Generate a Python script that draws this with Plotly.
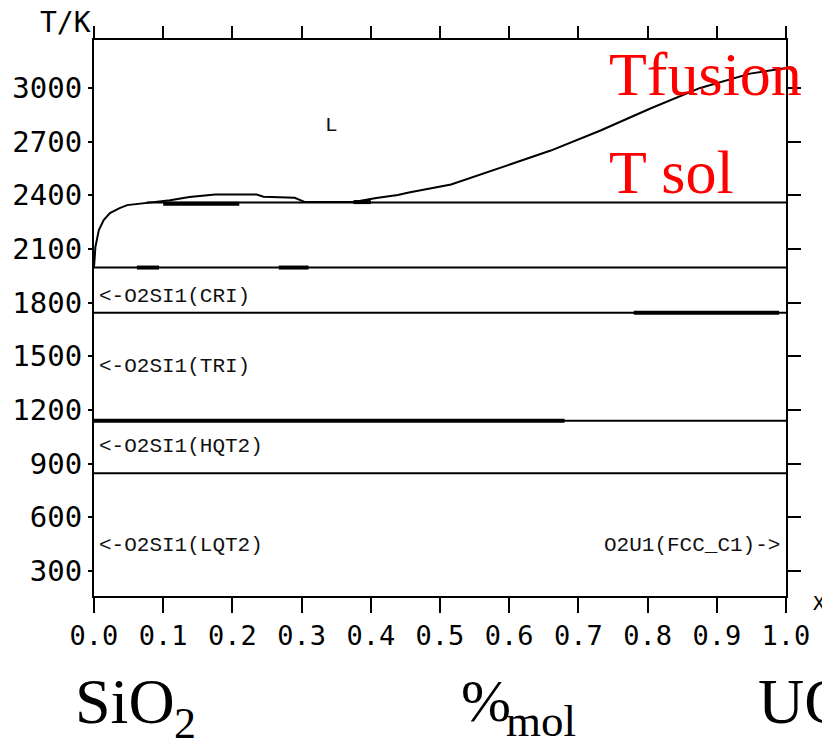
import plotly.graph_objects as go

# ---------------- data ----------------
liq_x = [0.000, 0.002, 0.007, 0.014, 0.023, 0.037, 0.048, 0.076, 0.095, 0.110,
         0.138, 0.175, 0.235, 0.245, 0.290, 0.305, 0.375, 0.408, 0.439, 0.455,
         0.516, 0.588, 0.660, 0.732, 0.804, 0.876, 0.948, 1.000]
liq_T = [1996, 2110, 2205, 2262, 2300, 2328, 2345, 2357, 2366, 2372,
         2390, 2404, 2404, 2392, 2386, 2362, 2362, 2385, 2402, 2416,
         2460, 2553, 2650, 2762, 2885, 3000, 3080, 3112]

# invariant (horizontal) lines: temperature, x start, x end
inv_T = [2360, 1996, 1743, 1140, 846]
inv_x0 = [0.076, 0.0, 0.0, 0.0, 0.0]
inv_x1 = [1.0, 1.0, 1.0, 1.0, 1.0]

# thick (overlapping) segments: temperature, x start, x end
thick_T = [2352, 1996, 1996, 1743, 1140, 2362]
thick_x0 = [0.100, 0.062, 0.267, 0.780, 0.000, 0.375]
thick_x1 = [0.210, 0.094, 0.310, 0.990, 0.680, 0.400]

x_ticks = [0.0, 0.1, 0.2, 0.3, 0.4, 0.5, 0.6, 0.7, 0.8, 0.9, 1.0]
y_ticks = [300, 600, 900, 1200, 1500, 1800, 2100, 2400, 2700, 3000]
y_range = [160, 3268]

phase_labels = ["L", "<-O2SI1(CRI)", "<-O2SI1(TRI)", "<-O2SI1(HQT2)",
                "<-O2SI1(LQT2)", "O2U1(FCC_C1)->"]
phase_x = [0.343, 0.004, 0.004, 0.004, 0.004, 0.994]
phase_T = [2790, 1832, 1441, 993, 440, 440]
phase_anchor = ["center", "left", "left", "left", "left", "right"]

# ---------------- figure ----------------
L, R, T, B = 92, 36, 40, 145
W, H = 822, 741
pw, ph = W - L - R, H - T - B

def px(xp):
    return (xp - L) / pw

def py(yp):
    return (H - B - yp) / ph

fig = go.Figure()

for Tv, a, b in zip(inv_T, inv_x0, inv_x1):
    fig.add_trace(go.Scatter(x=[a, b], y=[Tv, Tv], mode="lines",
                             line=dict(color="black", width=2),
                             showlegend=False, hoverinfo="skip"))
for Tv, a, b in zip(thick_T, thick_x0, thick_x1):
    fig.add_trace(go.Scatter(x=[a, b], y=[Tv, Tv], mode="lines",
                             line=dict(color="black", width=4),
                             showlegend=False, hoverinfo="skip"))

fig.add_trace(go.Scatter(x=liq_x, y=liq_T, mode="lines",
                         line=dict(color="black", width=2, shape="linear"),
                         showlegend=False, hoverinfo="skip"))

# invisible trace for mirrored axes
fig.add_trace(go.Scatter(x=[0, 1], y=y_range, xaxis="x2", yaxis="y2",
                         mode="markers", marker=dict(opacity=0),
                         showlegend=False, hoverinfo="skip"))

mono = "DejaVu Sans Mono"
serif = "Liberation Serif"

fig.update_layout(
    width=W, height=H,
    margin=dict(l=L, r=R, t=T, b=B),
    paper_bgcolor="white", plot_bgcolor="white",
    xaxis=dict(range=[0, 1], showgrid=False, zeroline=False,
               showline=True, linecolor="black", linewidth=2,
               ticks="outside", ticklen=15, tickwidth=2, tickcolor="black",
               tickvals=x_ticks, ticktext=[f"{v:.1f}" for v in x_ticks],
               tickfont=dict(family=mono, size=27, color="black")),
    xaxis2=dict(range=[0, 1], overlaying="x", side="top", anchor="y",
                showgrid=False, zeroline=False,
                showline=True, linecolor="black", linewidth=2,
                ticks="outside", ticklen=12, tickwidth=2, tickcolor="black",
                tickvals=x_ticks, showticklabels=False),
    yaxis=dict(range=y_range, showgrid=False, zeroline=False,
               showline=True, linecolor="black", linewidth=2,
               ticks="outside", ticklen=4, tickwidth=2, tickcolor="black",
               tickvals=y_ticks, ticktext=[str(v) for v in y_ticks],
               tickfont=dict(family=mono, size=29, color="black")),
    yaxis2=dict(range=y_range, overlaying="y", side="right", anchor="x",
                showgrid=False, zeroline=False,
                showline=True, linecolor="black", linewidth=2,
                ticks="outside", ticklen=13, tickwidth=2, tickcolor="black",
                tickvals=y_ticks, showticklabels=False),
)

ann = []
for t, xv, Tv, anc in zip(phase_labels, phase_x, phase_T, phase_anchor):
    ann.append(dict(x=xv, y=Tv, xref="x", yref="y", text=t, showarrow=False,
                    xanchor=anc, yanchor="middle",
                    font=dict(family="Liberation Mono", size=21, color="#111")))

def txt(text, xp, yp, size, family=serif, color="black", xa="left", ya="middle"):
    return dict(x=px(xp), y=py(yp), xref="paper", yref="paper", text=text,
                showarrow=False, xanchor=xa, yanchor=ya,
                font=dict(family=family, size=size, color=color))

ann += [
    dict(x=0.742, y=3078, xref="x", yref="y", text="Tfusion", showarrow=False,
         xanchor="left", yanchor="middle",
         font=dict(family=serif, size=62, color="red")),
    dict(x=0.742, y=2530, xref="x", yref="y", text="T sol", showarrow=False,
         xanchor="left", yanchor="middle",
         font=dict(family=serif, size=62, color="red")),
    txt("T/K", 63, 23, 28, family=mono, xa="center"),
    txt("X", 811, 603, 20, family=mono),
    txt("SiO", 71, 701, 64),
    txt("2", 170, 723, 44),
    txt("%", 458, 701, 60),
    txt("mol", 503, 721, 45),
    txt("UO", 756, 701, 64),
]
fig.update_layout(annotations=ann)

fig.write_html("out.html", config={"displayModeBar": False},
               post_script="document.body.style.margin='0';")
